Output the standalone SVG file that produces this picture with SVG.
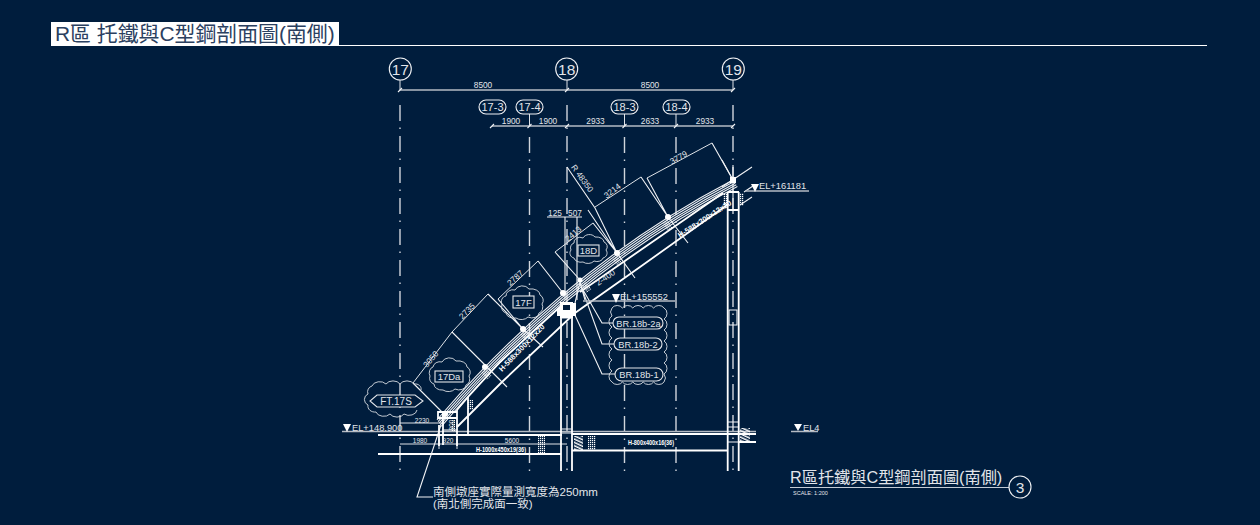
<svg xmlns="http://www.w3.org/2000/svg" width="1260" height="525" viewBox="0 0 1260 525">
<style>
text{font-family:"Liberation Sans","Noto Sans CJK TC",sans-serif;fill:#e2e5ea}
.t8{font-size:8.300px;text-anchor:middle}
.t9{font-size:9.300px}
.c{text-anchor:middle}
.w{fill:none;stroke:#fff;stroke-width:1.8}
.m{fill:none;stroke:#f0f2f5;stroke-width:1.100}
.s{fill:none;stroke:#dfe3e8;stroke-width:1}
.g{fill:none;stroke:#b4bac3;stroke-width:1.500}
.grid{fill:none;stroke:#d0d5dc;stroke-width:1.400;stroke-dasharray:16 6.500 1.500 7}
.b{fill:#fff;stroke:none}
.box{fill:#001d3d;stroke:#e2e5ea;stroke-width:1.100}
.cl{fill:none;stroke:#d8dce2;stroke-width:.9}
.tri{fill:#fff;stroke:none}
.nar{font-size:7.500px;font-weight:bold;fill:#fff}
</style>
<defs>
<path id="roof" d="M437 420 L443 413 Q572 264 733 180"/>
<pattern id="hatch" width="3" height="3" patternUnits="userSpaceOnUse" patternTransform="rotate(-65)"><rect width="1.500" height="3" fill="#fff"/></pattern>
<pattern id="dots" width="2" height="2" patternUnits="userSpaceOnUse"><rect width="1.200" height="1.200" fill="#fff"/></pattern>
</defs>
<rect width="1260" height="525" fill="#001d3d"/>
<g id="title">
<rect x="51" y="22" width="288" height="24" fill="#fff"/>
<line x1="339" y1="45.500" x2="1207" y2="45.500" stroke="#fff" stroke-width="1"/>
<text x="55" y="41" font-size="20.900" style="fill:#2b4060">R區 托鐵與C型鋼剖面圖(南側)</text>
</g>
<g id="gridlines">
<line class="grid" x1="400" y1="105" x2="400" y2="473"/>
<line class="grid" x1="567" y1="105" x2="567" y2="473"/>
<line class="grid" x1="733" y1="105" x2="733" y2="473"/>
<line class="grid" x1="529.500" y1="137" x2="529.500" y2="473"/>
<line class="grid" x1="624.500" y1="137" x2="624.500" y2="473"/>
<line class="grid" x1="676" y1="137" x2="676" y2="473"/>
<path class="s" d="M400 80V90M567 80V90M733 80V90M529.500 114V126M624.500 114V126M676 114V126"/>
</g>
<g id="connectors">
<path class="g" d="M400 90H733M492 126H733"/>
<path class="m" stroke-width="1.600" d="M398 92l4-4M565 92l4-4M731 92l4-4M490 128l4-4M527.500 128l4-4M565 128l4-4M622.500 128l4-4M674 128l4-4M731 128l4-4"/>
<use href="#roof" class="m"/>
<use href="#roof" class="m" transform="translate(1.100 1.600)"/>
<use href="#roof" class="m" transform="translate(2.200 3.200)"/>
<use href="#roof" class="m" transform="translate(3.300 4.800)"/>
<use href="#roof" class="m" transform="translate(4.400 6.400)"/>
<path class="m" d="M722 187L752 167M722 160L733 180M733 165V210"/>
<path class="w" d="M457 410L468 397L500 362L562 305M580 292L723 193"/>
<path class="w" d="M457 427L502 382L575 313L640 267L727 205"/>
<path class="s" d="M413 383L452 332L488 294M498 299L538 261M555 252L593 223M595 207L641 177M647 178L712 143"/>
<path class="m" d="M413 383L443 413M452 332L507 387M488 294L523 329L543 347M498 299L523 329M538 261L563 293M555 252L580 280M567 167L595 208L617 253L635 278M588 210L617 253M593 223L617 253M641 177L668 217L688 243M647 178L668 217M712 143L733 180"/>
<path class="m" d="M744 192L753 186M740 205L752 197"/>
<path class="m" d="M613 323H602L582 288M614 344H602L580 283M615 374H602L574 313"/>
<path class="m" d="M441 425L417 497H433"/>
<path class="m" d="M547 217H582M565 217V300M577 217V300"/>
<path class="g" d="M583 301H675M745 191H809M342 431.500H756M791 431.500H818"/>
<path class="s" d="M400 423H443M400 444H567M439 439V449M457 439V449"/>
</g>
<g id="frame">
<path class="w" d="M561 302V471M572 302V471M727.700 192V471M738.700 192V471"/>
<path class="w" d="M378 435H562M572 434H756M378 454H561M572 450.500H728M738 442H756M728 192H739M728 210H739"/>
<path class="m" d="M561 429H572M561 433H572M728 422H738M728 427H738M728 442H738M729 310H737V325H729ZM575 303L580 282L585 300M560 318H573"/>
<path class="w" d="M439 425V446M443 412V445M457 410V446M468 397V435M438 412H457V418H438Z"/>
<path class="m" d="M443 430H457"/>
<rect x="468" y="400" width="5" height="10" fill="url(#dots)"/>
<rect x="451" y="420" width="4" height="11" fill="url(#dots)"/>
<rect x="538" y="435" width="7" height="18" fill="url(#dots)"/>
<rect x="588" y="436" width="8" height="14" fill="url(#dots)"/>
<rect x="574" y="436" width="9" height="14" fill="url(#hatch)"/>
<rect x="740" y="428" width="10" height="14" fill="url(#hatch)"/>
<path class="b" d="M560 302H573V318H560ZM557 308H560V316H557ZM573 303H576V316H573Z"/>
<rect x="563" y="305" width="7" height="5" fill="#001d3d"/>
<rect x="723" y="193" width="4" height="13" fill="url(#dots)"/>
<rect x="740" y="193" width="4" height="13" fill="url(#dots)"/>
<rect class="b" x="730" y="177" width="6" height="6"/>
<circle class="b" cx="445" cy="414" r="3"/>
<circle class="b" cx="485" cy="367" r="3"/>
<circle class="b" cx="523" cy="329" r="3"/>
<circle class="b" cx="563" cy="293" r="3"/>
<circle class="b" cx="580" cy="280" r="2.500"/>
<circle class="b" cx="617" cy="253" r="3"/>
<circle class="b" cx="668" cy="217" r="3"/>
<rect x="-3" y="-4" width="6" height="9" fill="url(#dots)" transform="translate(486 374) rotate(-42)"/>
<rect x="-3" y="-4" width="6" height="9" fill="url(#dots)" transform="translate(525 336) rotate(-42)"/>
<rect x="-3" y="-4" width="6" height="9" fill="url(#dots)" transform="translate(586 287) rotate(-36)"/>
<rect x="-3" y="-4" width="6" height="9" fill="url(#dots)" transform="translate(617 261) rotate(-36)"/>
<rect x="-3" y="-4" width="6" height="9" fill="url(#dots)" transform="translate(667 225) rotate(-32)"/>
</g>
<g id="axis-17"><circle class="m" stroke-width="1.300" cx="400.300" cy="69" r="11"/><text x="400.300" y="74.500" font-size="15.500" class="c">17</text></g>
<g id="axis-18"><circle class="m" stroke-width="1.300" cx="566.700" cy="69" r="11"/><text x="566.700" y="74.500" font-size="15.500" class="c">18</text></g>
<g id="axis-19"><circle class="m" stroke-width="1.300" cx="733.300" cy="69" r="11"/><text x="733.300" y="74.500" font-size="15.500" class="c">19</text></g>
<g id="axis-17-3"><rect class="m" x="479" y="100" width="27" height="14" rx="7"/><text x="492.500" y="111" font-size="11" class="c">17-3</text></g>
<g id="axis-17-4"><rect class="m" x="516" y="100" width="27" height="14" rx="7"/><text x="529.500" y="111" font-size="11" class="c">17-4</text></g>
<g id="axis-18-3"><rect class="m" x="611" y="100" width="27" height="14" rx="7"/><text x="624.500" y="111" font-size="11" class="c">18-3</text></g>
<g id="axis-18-4"><rect class="m" x="663" y="100" width="27" height="14" rx="7"/><text x="676.500" y="111" font-size="11" class="c">18-4</text></g>
<g id="dims">
<text x="483" y="88" class="t8">8500</text>
<text x="650" y="88" class="t8">8500</text>
<text x="511" y="124" class="t8">1900</text>
<text x="548" y="124" class="t8">1900</text>
<text x="595.500" y="124" class="t8">2933</text>
<text x="650" y="124" class="t8">2633</text>
<text x="705" y="124" class="t8">2933</text>
<text x="555" y="216" class="t8">125</text>
<text x="575" y="216" class="t8">507</text>
<text class="t8" transform="translate(680 160) rotate(-30)">3779</text>
<text class="t8" transform="translate(614 193) rotate(-38)">3214</text>
<text class="t8" transform="translate(575 236) rotate(-40)">2413</text>
<text class="t8" transform="translate(517 280) rotate(-42)">2787</text>
<text class="t8" transform="translate(469 313) rotate(-46)">2735</text>
<text class="t8" transform="translate(433 361) rotate(-50)">3050</text>
<text class="t8" transform="translate(580 180) rotate(54)">R 48350</text>
<text class="t8" transform="translate(607 280) rotate(-35)">2-400</text>
<text x="422" y="423" font-size="6.500" class="c">2230</text>
<text x="420" y="443" font-size="6.500" class="c">1980</text>
<text x="448" y="443" font-size="6.500" class="c">920</text>
<text x="512" y="443" font-size="6.500" class="c">5600</text>
<text font-size="6.500" class="c" transform="translate(454 425) rotate(-90)">800</text>
<text class="nar" transform="translate(502 372) rotate(-46)">H-588x300x12x20</text>
<text class="nar" transform="translate(680 238) rotate(-33)">H-588x300x12x20</text>
<text class="nar" x="476" y="452" textLength="50" lengthAdjust="spacingAndGlyphs">H-1000x450x19(36)</text>
<text class="nar" x="628" y="445" textLength="46" lengthAdjust="spacingAndGlyphs">H-800x400x16(36)</text>
</g>
<g id="levels">
<path class="tri" d="M612 294H620L616 303ZM751 184H759L755 192ZM343 424H351L347 432ZM794 424H802L798 431Z"/>
<text x="620" y="300" class="t9">EL+155552</text>
<text x="759" y="189" class="t9">EL+161181</text>
<text x="352" y="431" class="t9">EL+148.900</text>
<text x="803" y="431" class="t9">EL4</text>
</g>
<g id="tag-FT17S">
<path class="cl" d="M372 386a8 6 0 0 1 14-2a8 6 0 0 1 14 0a8 6 0 0 1 14 0a6 5 0 0 1 7 6M372 386a6 6 0 0 0-4 8a6 6 0 0 0 0 11a7 6 0 0 0 8 7a8 6 0 0 0 14 2a8 6 0 0 0 14 0a8 6 0 0 0 13-4"/>
<path class="box" d="M377 395H415L423 401L415 407H377L370 401Z"/>
<text x="396" y="404.500" font-size="10" class="c">FT.17S</text>
</g>
<g id="tag-17Da">
<path class="cl" d="M433 367a7 6 0 0 1 9-5a8 7 0 0 1 14-1a9 6 0 0 1 11 6a6 6 0 0 1 2 9a5 6 0 0 1-3 9a7 5 0 0 1-11 4a8 6 0 0 1-12 1a8 6 0 0 1-9-6a6 6 0 0 1-4-8a5 6 0 0 1 3-9Z"/>
<rect class="box" x="435" y="371" width="28" height="11"/>
<text x="449" y="380" font-size="9.500" class="c">17Da</text>
</g>
<g id="tag-17F">
<path class="cl" d="M506 296a7 6 0 0 1 9-6a8 7 0 0 1 14-1a9 6 0 0 1 11 6a6 6 0 0 1 2 9a5 6 0 0 1-3 9a7 5 0 0 1-11 4a8 6 0 0 1-12 1a8 6 0 0 1-10-5a6 6 0 0 1-4-8a5 6 0 0 1 4-9Z"/>
<rect class="box" x="513" y="296" width="21" height="12"/>
<text x="523.500" y="305.500" font-size="9.500" class="c">17F</text>
</g>
<g id="tag-18D">
<path class="cl" d="M574 243a6 5 0 0 1 9-5a7 6 0 0 1 12-1a8 5 0 0 1 9 5a5 5 0 0 1 2 8a5 5 0 0 1-3 8a6 4 0 0 1-9 3a7 5 0 0 1-11 1a7 5 0 0 1-9-4a5 5 0 0 1-3-8a5 5 0 0 1 3-7Z"/>
<rect class="box" x="578" y="245" width="21" height="11"/>
<text x="588.500" y="254" font-size="9.500" class="c">18D</text>
</g>
<g id="tag-BR-cloud">
<path class="cl" d="M612 308a6 5 0 0 1 10.400 0a6 5 0 0 1 10.400 0a6 5 0 0 1 10.400 0a6 5 0 0 1 10.400 0a6 5 0 0 1 10.400 0a5 6 0 0 1 0 11a5 6 0 0 1 0 11a5 6 0 0 1 0 11a5 6 0 0 1 0 11a5 6 0 0 1 0 11a5 6 0 0 1 0 11a5 6 0 0 1 0 8a6 5 0 0 1-10.400 0a6 5 0 0 1-10.400 0a6 5 0 0 1-10.400 0a6 5 0 0 1-10.400 0a6 5 0 0 1-10.400 0a5 6 0 0 1 0-11a5 6 0 0 1 0-11a5 6 0 0 1 0-11a5 6 0 0 1 0-11a5 6 0 0 1 0-11a5 6 0 0 1 0-11a5 6 0 0 1 0-8Z"/>
</g>
<g id="tag-BR18b-2a"><rect class="box" x="613" y="317" width="50" height="12" rx="6"/><text x="638.500" y="326.500" font-size="9.300" class="c">BR.18b-2a</text></g>
<g id="tag-BR18b-2"><rect class="box" x="614" y="338" width="48" height="12" rx="6"/><text x="638" y="347.500" font-size="9.300" class="c">BR.18b-2</text></g>
<g id="tag-BR18b-1"><rect class="box" x="615" y="368" width="48" height="13" rx="6.500"/><text x="639" y="378" font-size="9.300" class="c">BR.18b-1</text></g>
<g id="note">
<text x="433" y="496" font-size="11.500">南側墩座實際量測寬度為250mm</text>
<text x="433" y="508" font-size="11.500">(南北側完成面一致)</text>
</g>
<g id="drawing-title">
<text x="790" y="483" font-size="16.200">R區托鐵與C型鋼剖面圖(南側)</text>
<line x1="790" y1="487.500" x2="1009" y2="487.500" stroke="#c4ccd6" stroke-width="1"/>
<text x="793" y="495" font-size="5.500">SCALE: 1:200</text>
<circle class="m" stroke-width="1.300" cx="1020" cy="487" r="11"/>
<text x="1020" y="492.500" font-size="15.500" class="c">3</text>
</g>
</svg>
